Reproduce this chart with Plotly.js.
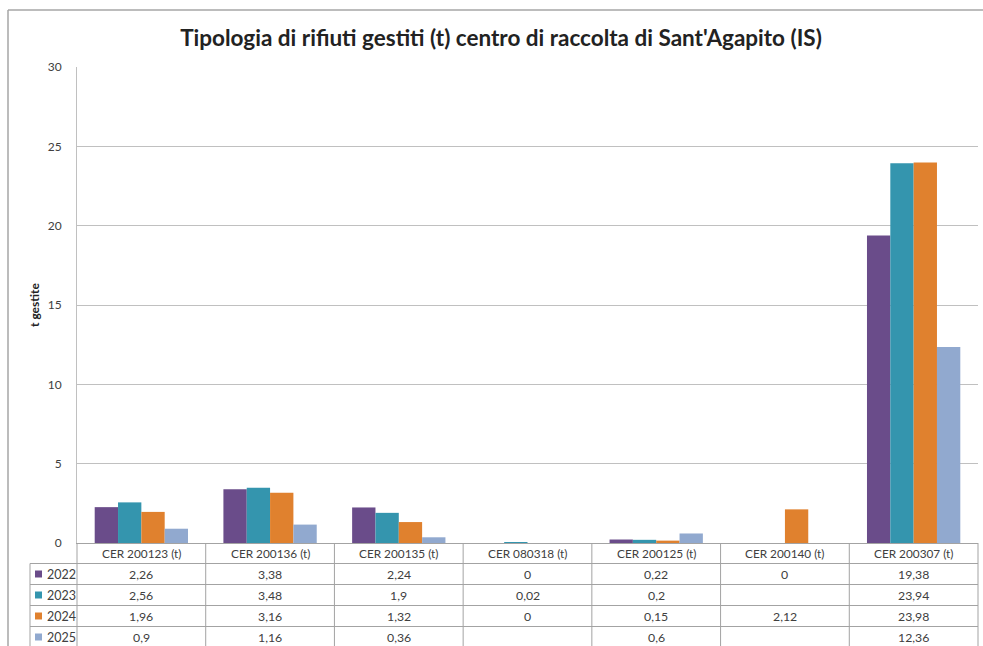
<!DOCTYPE html>
<html><head><meta charset="utf-8">
<script src="https://cdn.plot.ly/plotly-3.0.1.min.js"></script>
<style>html,body{margin:0;padding:0;background:#fff;overflow:hidden}#chart{width:983px;height:646px}</style>
</head><body><div id="chart"></div>
<script>
// ---- data ----
const categories = ['CER 200123 (t)', 'CER 200136 (t)', 'CER 200135 (t)', 'CER 080318 (t)', 'CER 200125 (t)', 'CER 200140 (t)', 'CER 200307 (t)'];
const years = ['2022', '2023', '2024', '2025'];
const values2022 = [2.26, 3.38, 2.24, 0, 0.22, 0, 19.38];
const values2023 = [2.56, 3.48, 1.9, 0.02, 0.2, null, 23.94];
const values2024 = [1.96, 3.16, 1.32, 0, 0.15, 2.12, 23.98];
const values2025 = [0.9, 1.16, 0.36, null, 0.6, null, 12.36];
const yTicks = [0, 5, 10, 15, 20, 25, 30];
const titleText = "Tipologia di rifiuti gestiti (t) centro di raccolta di Sant'Agapito (IS)";
const yTitle = 't gestite';

// ---- style ----
const series = [values2022, values2023, values2024, values2025];
const colors = ['#6A4C8A', '#3495AE', '#E0812E', '#91A9CF'];
const FONT = 'Lato, "Liberation Sans", sans-serif';
const TXT = '#404040';
const TABLE_LINE = '#A3A3A3';
const GRID = '#C0C0C0';

const W = 983, H = 646, L = 77, R = 5, T = 67, B = 103;
const plotH = H - T - B, plotW = W - L - R;
const py = p => (H - B - p) / plotH;   // pixel y -> paper y
const px = p => (p - L) / plotW;       // pixel x -> paper x

const fmt = v => (v === null || v === undefined) ? '' : String(v).replace('.', ',');

const traces = series.map((vals, i) => ({
  type: 'bar', name: years[i], x: categories, y: vals,
  marker: {color: colors[i], line: {width: 0}},
  hoverinfo: 'x+y+name'
}));

const shapes = [];
const annotations = [];
const line = (x0, y0, x1, y1, color, width) => shapes.push({type: 'line', xref: 'paper', yref: 'paper', x0, y0, x1, y1, line: {color, width}, layer: 'above'});

// outer frame
line(px(8), py(10), px(8), py(720), '#A6A6A6', 1.5);
line(px(8), py(10), px(1100), py(10), '#A6A6A6', 1.5);

// table geometry
const rowLines = [563.5, 584.5, 605.5, 626.5];
const headerCenter = 553;
const rowCenters = [574, 595, 616, 637];
rowLines.forEach(y => line(px(30), py(y), 1, py(y), TABLE_LINE, 1));
for (let i = 0; i <= categories.length; i++) {
  line(i / categories.length, 0, i / categories.length, py(720), TABLE_LINE, 1);
}
line(px(30), py(563.5), px(30), py(720), TABLE_LINE, 1);

// header labels
categories.forEach(c => annotations.push({
  xref: 'x', yref: 'paper', x: c, y: py(headerCenter), yanchor: 'middle', xanchor: 'center',
  text: c, showarrow: false, font: {family: FONT, size: 11.8, color: TXT}
}));

// rows
series.forEach((vals, r) => {
  shapes.push({type: 'rect', xref: 'paper', yref: 'paper', x0: px(35), x1: px(42), y0: py(rowCenters[r] - 3.5), y1: py(rowCenters[r] + 3.5), fillcolor: colors[r], line: {width: 0}});
  annotations.push({xref: 'paper', yref: 'paper', x: px(44.5), y: py(rowCenters[r]), xanchor: 'left', yanchor: 'middle', text: years[r], showarrow: false, font: {family: FONT, size: 12.5, color: TXT}});
  vals.forEach((v, c) => annotations.push({
    xref: 'x', yref: 'paper', x: categories[c], y: py(rowCenters[r]), xanchor: 'center', yanchor: 'middle',
    text: fmt(v), showarrow: false, font: {family: FONT, size: 12.3, color: TXT}
  }));
});

// y title
annotations.push({xref: 'paper', yref: 'paper', x: px(34), y: 0.5, xanchor: 'center', yanchor: 'middle', textangle: -90,
  text: '<b>' + yTitle + '</b>', showarrow: false, font: {family: FONT, size: 12, color: '#222'}});

const layout = {
  width: W, height: H,
  margin: {l: L, r: R, t: T, b: B, pad: 0},
  paper_bgcolor: '#fff', plot_bgcolor: '#fff',
  showlegend: false,
  barmode: 'group', bargap: 0.275, bargroupgap: 0,
  title: {text: '<b>' + titleText + '</b>', x: 501 / W, xanchor: 'center', xref: 'container', y: 1 - 38 / H, yanchor: 'middle', yref: 'container',
    font: {family: FONT, size: 22.5, color: '#222'}},
  xaxis: {type: 'category', range: [-0.5, categories.length - 0.5], showticklabels: false, ticks: '', showgrid: false, zeroline: false,
    showline: true, linecolor: TABLE_LINE, linewidth: 1, fixedrange: true},
  yaxis: {range: [0, 30], tickvals: yTicks, ticktext: yTicks.map(String), showgrid: true, gridcolor: GRID, gridwidth: 1, zeroline: false,
    showline: true, linecolor: GRID, linewidth: 1, ticks: '', ticklabelstandoff: 12,
    tickfont: {family: FONT, size: 12, color: TXT}, fixedrange: true},
  shapes, annotations,
  font: {family: FONT, color: TXT}
};

Plotly.newPlot('chart', traces, layout, {displayModeBar: false});
</script>
</body></html>
